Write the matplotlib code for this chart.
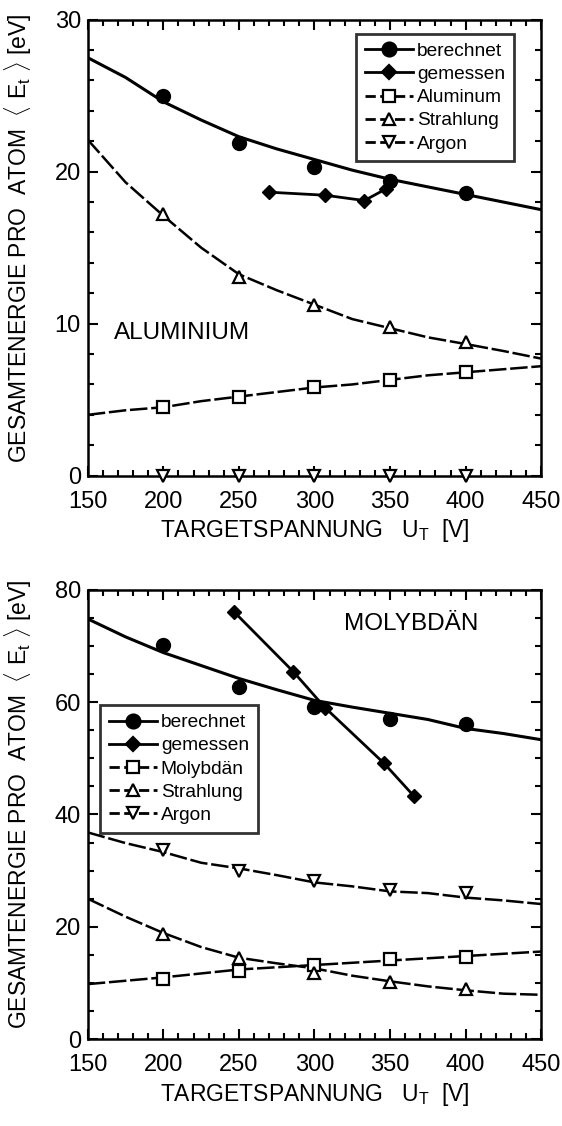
import matplotlib
matplotlib.use("Agg")
import matplotlib.pyplot as plt
from matplotlib.ticker import MultipleLocator
from matplotlib.lines import Line2D

plt.rcParams['font.family'] = ['Liberation Sans', 'DejaVu Sans']
plt.rcParams['mathtext.fontset'] = 'custom'
plt.rcParams['mathtext.rm'] = 'Liberation Sans'
plt.rcParams['mathtext.it'] = 'Liberation Sans'

# ---------------- data: Aluminium ----------------
pts_x = [200, 250, 300, 350, 400]
curve_x = [150, 175, 200, 225, 250, 275, 300, 325, 350, 375, 400, 425, 450]

al_ber_pts = [25.0, 21.9, 20.3, 19.4, 18.6]
al_ber_curve = [27.5, 26.2, 24.6, 23.4, 22.3, 21.5, 20.8, 20.1, 19.5, 19.0, 18.5, 18.0, 17.5]
al_gem_x = [270, 307, 333, 347]
al_gem_y = [18.65, 18.45, 18.1, 18.85]
al_al_pts = [4.5, 5.2, 5.8, 6.3, 6.8]
al_al_curve = [4.0, 4.3, 4.5, 4.9, 5.2, 5.5, 5.8, 6.0, 6.3, 6.6, 6.8, 7.0, 7.2]
al_str_pts = [17.2, 13.1, 11.2, 9.8, 8.8]
al_str_curve = [22.1, 19.3, 17.1, 15.0, 13.25, 12.2, 11.25, 10.3, 9.7, 9.1, 8.66, 8.2, 7.7]
al_ar_pts = [0, 0, 0, 0, 0]

# ---------------- data: Molybdän ----------------
mo_ber_pts = [70.2, 62.7, 59.1, 57.0, 56.1]
mo_ber_curve = [74.8, 71.6, 68.8, 66.5, 64.2, 62.2, 60.3, 59.1, 58.0, 56.9, 55.3, 54.4, 53.3]
mo_gem_x = [247, 286, 307, 346, 366]
mo_gem_y = [76.0, 65.4, 59.0, 49.1, 43.2]
mo_mo_pts = [10.8, 12.1, 13.2, 14.2, 14.6]
mo_mo_curve = [9.8, 10.4, 11.0, 11.7, 12.4, 12.8, 13.2, 13.6, 14.0, 14.4, 14.8, 15.2, 15.6]
mo_str_pts = [18.8, 14.5, 11.7, 10.2, 8.9]
mo_str_curve = [25.0, 21.8, 18.9, 16.4, 14.5, 13.5, 12.6, 11.3, 10.3, 9.4, 8.7, 8.1, 7.9]
mo_ar_pts = [33.6, 29.9, 28.1, 26.5, 26.1]
mo_ar_curve = [36.8, 34.9, 33.3, 31.4, 30.4, 29.2, 27.9, 27.2, 26.3, 26.0, 25.2, 24.7, 24.05]

xticks = [150, 200, 250, 300, 350, 400, 450]

fig = plt.figure(figsize=(5.62, 11.26), dpi=100)
ax1 = fig.add_axes([0.1562, 0.5776, 0.8068, 0.4049])
ax2 = fig.add_axes([0.1562, 0.0771, 0.8068, 0.3992])

DASH = (0, (7, 1.5))
ms = 10
mso = 9

def style(ax, ymax, ymajor, yminor, ylab_y):
    ax.set_xlim(150, 450)
    ax.set_ylim(0, ymax)
    ax.set_xticks(xticks)
    ax.xaxis.set_minor_locator(MultipleLocator(10))
    ax.yaxis.set_major_locator(MultipleLocator(ymajor))
    ax.yaxis.set_minor_locator(MultipleLocator(yminor))
    ax.tick_params(which='both', direction='in', top=True, right=True, width=1.5, labelsize=17, colors='black')
    ax.tick_params(which='major', length=7)
    ax.tick_params(which='minor', length=4)
    ax.tick_params(axis='x', which='major', pad=11)
    ax.tick_params(axis='y', which='major', pad=5)
    for s in ax.spines.values():
        s.set_linewidth(1.8)
    ax.set_xlabel(r'TARGETSPANNUNG   U$_\mathrm{T}$  [V]', fontsize=16.5, labelpad=3)
    ax.set_ylabel(r'GESAMTENERGIE PRO  ATOM  $\langle$ E$_\mathrm{t}$ $\rangle$ [eV]', fontsize=16.5)
    ax.yaxis.set_label_coords(-0.119, ylab_y)

def handles(names):
    specs = [('o', 'black', '-'), ('D', 'black', '-'), ('s', 'white', '--'), ('^', 'white', '--'), ('v', 'white', '--')]
    hs = []
    for (m, fc, ls), n in zip(specs, names):
        msz = 10 if m == 'o' else (7.5 if m == 'D' else 8)
        hs.append(Line2D([], [], color='black', lw=2.0, ls=ls, marker=m, markersize=msz,
                         markerfacecolor=fc, markeredgecolor='black', markeredgewidth=1.6, label=n))
    return hs

def legend(ax, names, loc, anchor):
    leg = ax.legend(handles=handles(names), loc=loc, bbox_to_anchor=anchor, fontsize=13.8,
                    frameon=True, fancybox=False, edgecolor='black', handlelength=2.5,
                    handletextpad=0.2, labelspacing=0.3, borderpad=0.45, borderaxespad=0.0)
    leg.get_frame().set_linewidth(2)
    return leg

# ---- top: Aluminium ----
ax = ax1
ax.plot(curve_x, al_ber_curve, color='black', lw=2.2)
ax.plot(pts_x, al_ber_pts, 'o', color='black', ms=ms)
ax.plot(al_gem_x, al_gem_y, '-D', color='black', lw=2, ms=7.5)
ax.plot(curve_x, al_al_curve, color='black', lw=1.8, ls=DASH)
ax.plot(pts_x, al_al_pts, 's', mfc='white', mec='black', mew=1.6, ms=mso, zorder=4)
ax.plot(curve_x, al_str_curve, color='black', lw=1.8, ls=DASH)
ax.plot(pts_x, al_str_pts, '^', mfc='white', mec='black', mew=1.6, ms=mso, zorder=4)
ax.plot(pts_x, al_ar_pts, 'v', mfc='white', mec='black', mew=1.6, ms=mso, zorder=4, clip_on=False)
style(ax, 30, 10, 2, 0.52)
ax.text(167.3, 9.0, 'ALUMINIUM', fontsize=17.5, ha='left', va='baseline')
legend(ax, ['berechnet', 'gemessen', 'Aluminum', 'Strahlung', 'Argon'], 'upper right', (0.939, 0.969))

# ---- bottom: Molybdän ----
ax = ax2
ax.plot(curve_x, mo_ber_curve, color='black', lw=2.2)
ax.plot(pts_x, mo_ber_pts, 'o', color='black', ms=ms)
ax.plot(mo_gem_x, mo_gem_y, '-D', color='black', lw=2, ms=7.5)
ax.plot(curve_x, mo_mo_curve, color='black', lw=1.8, ls=DASH)
ax.plot(pts_x, mo_mo_pts, 's', mfc='white', mec='black', mew=1.6, ms=mso, zorder=4)
ax.plot(curve_x, mo_str_curve, color='black', lw=1.8, ls=DASH)
ax.plot(pts_x, mo_str_pts, '^', mfc='white', mec='black', mew=1.6, ms=mso, zorder=4)
ax.plot(curve_x, mo_ar_curve, color='black', lw=1.8, ls=DASH)
ax.plot(pts_x, mo_ar_pts, 'v', mfc='white', mec='black', mew=1.6, ms=mso, zorder=4)
style(ax, 80, 20, 5, 0.522)
ax.text(363.8, 72.9, 'MOLYBDÄN', fontsize=17.5, ha='center', va='baseline')
legend(ax, ['berechnet', 'gemessen', 'Molybdän', 'Strahlung', 'Argon'], 'upper left', (0.0278, 0.743))

fig.savefig('out.png', dpi=100)
